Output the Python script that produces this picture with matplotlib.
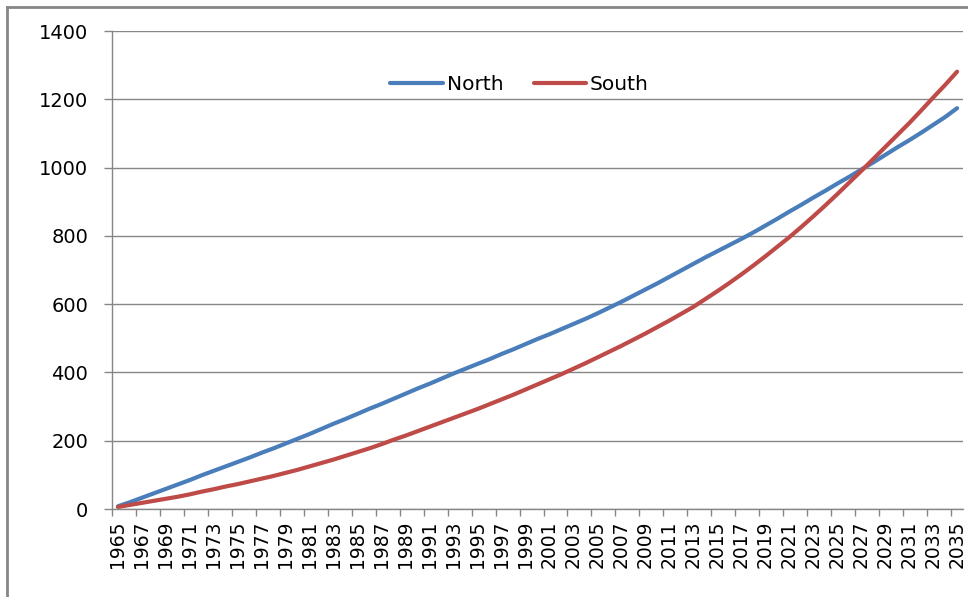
import numpy as np
import matplotlib
matplotlib.use('Agg')
import matplotlib.pyplot as plt
from matplotlib.lines import Line2D

# ==> Data
years = list(range(1965, 2036))

north = [8, 20, 33, 46, 59, 72, 85, 99, 112, 125,
         138, 151, 165, 178, 192, 206, 220, 235, 250, 264,
         279, 294, 308, 323, 338, 353, 367, 382, 397, 411,
         425, 439, 454, 468, 483, 498, 512, 527, 542, 557,
         573, 590, 607, 625, 643, 661, 680, 699, 718, 737,
         755, 773, 791, 810, 830, 850, 871, 891, 912, 932,
         953, 973, 994, 1015, 1037, 1059, 1080, 1102, 1125, 1148,
         1174]

south = [6, 12, 18, 24, 30, 36, 43, 51, 58, 66,
         73, 81, 89, 97, 106, 115, 125, 135, 145, 156,
         167, 178, 190, 203, 215, 228, 241, 254, 267, 280,
         293, 307, 321, 335, 350, 365, 380, 395, 411, 427,
         444, 461, 478, 496, 514, 533, 552, 572, 592, 615,
         638, 662, 687, 713, 740, 768, 796, 826, 857, 889,
         922, 956, 990, 1025, 1060, 1095, 1130, 1167, 1205, 1242,
         1281]

series_names = ['North', 'South']
colors = ['#4A7EBB', '#BE4B48']
grey = '#868686'

plt.rcParams['font.family'] = ['DejaVu Sans']

fig = plt.figure(figsize=(9.68, 5.97), dpi=100)
ax = fig.add_axes([0.1157, 0.1474, 0.8792, 0.8006])

x = np.arange(len(years))
for vals, name, c in zip([north, south], series_names, colors):
    ax.plot(x, vals, color=c, lw=3, label=name, solid_capstyle='round')

ax.set_xlim(-0.5, len(years) - 0.5)
ax.set_ylim(0, 1400)
ax.set_yticks(range(0, 1401, 200))

# labels at category centres, tick marks at category boundaries
ax.set_xticks(x[::2])
ax.set_xticklabels([str(y) for y in years[::2]], rotation=90, fontsize=13.5)
ax.set_xticks(np.arange(-0.5, len(years) - 0.5, 2), minor=True)
ax.tick_params(axis='x', which='major', length=0, pad=8.5)
ax.tick_params(axis='x', which='minor', length=5, width=1, color=grey)
ax.tick_params(axis='y', length=6, width=1, color=grey, pad=11, labelsize=14)

ax.grid(axis='y', color=grey, lw=1)
ax.set_axisbelow(True)
for side in ['top', 'right']:
    ax.spines[side].set_visible(False)
for side in ['left', 'bottom']:
    ax.spines[side].set_color(grey)
    ax.spines[side].set_linewidth(1)

ax.legend(loc='center', bbox_to_anchor=(0.479, 0.889), ncol=2, frameon=False,
          fontsize=14.5, handlelength=2.6, handletextpad=0.2, columnspacing=1.5,
          borderpad=0)

# chart area border (cropped at right and bottom)
fig.add_artist(Line2D([7 / 968, 7 / 968], [1 - 7 / 597, 0], color=grey, lw=2,
                      transform=fig.transFigure))
fig.add_artist(Line2D([7 / 968, 1], [1 - 7 / 597, 1 - 7 / 597], color=grey, lw=2,
                      transform=fig.transFigure))

fig.savefig('out.png', dpi=100)
